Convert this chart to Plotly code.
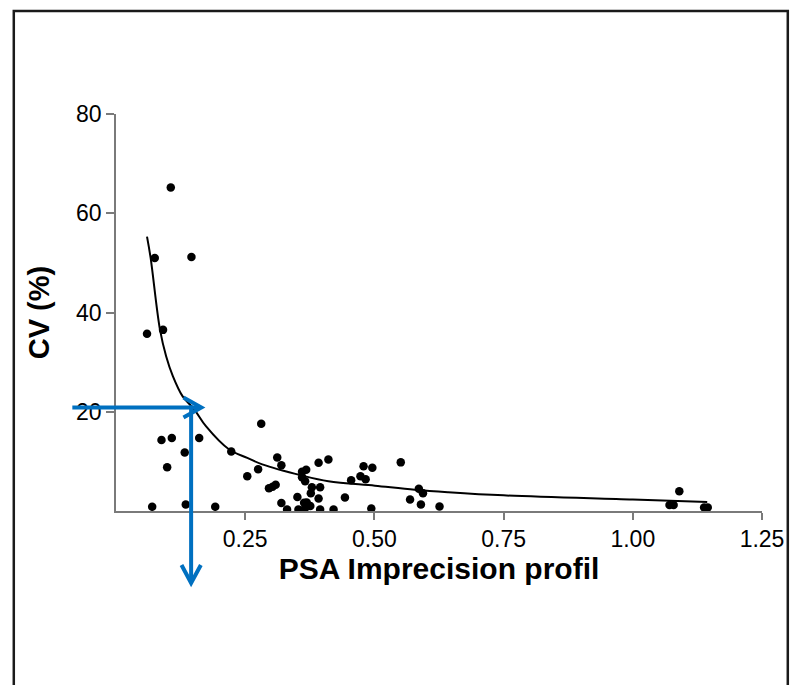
import plotly.graph_objects as go

# ---- data ----
psa_x = [0.060, 0.075, 0.106, 0.146, 0.091, 0.088, 0.108, 0.161, 0.133, 0.099,
         0.070, 0.135, 0.192, 0.223, 0.281, 0.254, 0.275, 0.296, 0.303, 0.309,
         0.312, 0.320, 0.320, 0.331, 0.351, 0.353, 0.360, 0.368, 0.360, 0.366,
         0.379, 0.395, 0.377, 0.392, 0.369, 0.376, 0.366, 0.395, 0.421, 0.392,
         0.411, 0.443, 0.455, 0.473, 0.483, 0.479, 0.496, 0.494, 0.551, 0.569,
         0.586, 0.594, 0.590, 0.626, 1.090, 1.071, 1.079, 1.138, 1.145, 0.364]
cv_y = [35.7, 51.0, 65.2, 51.2, 36.5, 14.3, 14.7, 14.7, 11.8, 8.8,
        0.85, 1.3, 0.85, 12.0, 17.6, 7.0, 8.4, 4.6, 4.9, 5.3,
        10.8, 9.2, 1.6, 0.3, 2.8, 0.3, 7.9, 8.3, 6.8, 6.0,
        4.8, 4.8, 3.6, 2.5, 1.7, 1.0, 0.6, 0.3, 0.3, 9.7,
        10.4, 2.7, 6.2, 7.0, 6.4, 9.0, 8.7, 0.5, 9.8, 2.3,
        4.5, 3.6, 1.3, 0.9, 4.0, 1.2, 1.2, 0.7, 0.7, 1.65]

fit_x = [0.060, 0.067, 0.085, 0.097, 0.110, 0.129, 0.152, 0.174, 0.219, 0.254,
         0.283, 0.360, 0.411, 0.501, 0.578, 0.642, 0.750, 1.000, 1.144]
fit_y = [55.3, 51.0, 36.6, 31.2, 27.2, 23.1, 20.4, 17.1, 12.4, 10.7,
         9.4, 7.15, 6.0, 5.1, 4.3, 3.8, 3.15, 2.3, 1.8]

x_ticks = [0.25, 0.50, 0.75, 1.00, 1.25]
x_tick_labels = ["0.25", "0.50", "0.75", "1.00", "1.25"]
y_ticks = [20, 40, 60, 80]
y_tick_labels = ["20", "40", "60", "80"]

# ---- layout geometry (pixels) ----
W, H = 796, 685
ML, MR, MT, MB = 116, 29, 114, 174
PW, PH = W - ML - MR, H - MT - MB


def px(xp):
    return (xp - ML) / PW


def py(yp):
    return (H - MB - yp) / PH


FONT = "Liberation Sans, Arial, sans-serif"
BLUE = "#0070C0"
AX = "#7a7a7a"

fig = go.Figure()
fig.add_trace(go.Scatter(x=fit_x, y=fit_y, mode="lines",
                         line=dict(color="black", width=2, shape="spline", smoothing=1.0),
                         hoverinfo="skip", showlegend=False))
fig.add_trace(go.Scatter(x=psa_x, y=cv_y, mode="markers",
                         marker=dict(color="black", size=8.5), showlegend=False))

shapes = []
# page frame
shapes.append(dict(type="rect", xref="paper", yref="paper",
                   x0=px(13), x1=px(793), y0=py(700), y1=py(11),
                   line=dict(color="#1a1a1a", width=2.5), fillcolor="rgba(0,0,0,0)", layer="below"))
# blue arrows
hy = 407.5
vx = 191.7
shapes.append(dict(type="line", xref="paper", yref="paper",
                   x0=px(72), x1=px(200), y0=py(hy), y1=py(hy),
                   line=dict(color=BLUE, width=4)))
shapes.append(dict(type="line", xref="paper", yref="paper",
                   x0=px(vx), x1=px(vx), y0=py(hy - 2), y1=py(581),
                   line=dict(color=BLUE, width=4)))


def chevron(points):
    d = "M " + " L ".join(f"{px(a):.5f},{py(b):.5f}" for a, b in points)
    return dict(type="path", xref="paper", yref="paper", path=d,
                line=dict(color=BLUE, width=4))


shapes.append(chevron([(184, 397.5), (202, 407.5), (184, 417.5)]))
shapes.append(chevron([(182, 565), (vx, 583), (201.5, 565)]))

fig.update_layout(
    width=W, height=H,
    margin=dict(l=ML, r=MR, t=MT, b=MB),
    paper_bgcolor="white", plot_bgcolor="white",
    font=dict(family=FONT, color="black"),
    shapes=shapes,
    xaxis=dict(range=[0, 1.25], tickvals=x_ticks, ticktext=x_tick_labels,
               showgrid=False, zeroline=False, showline=True, linecolor=AX, linewidth=1.5,
               ticks="outside", ticklen=7, tickcolor=AX, tickwidth=1.5,
               tickfont=dict(size=23, family=FONT),
               title=dict(text="<b>PSA Imprecision profil</b>", font=dict(size=30, family=FONT),
                          standoff=6)),
    yaxis=dict(range=[0, 80], tickvals=y_ticks, ticktext=y_tick_labels,
               showgrid=False, zeroline=False, showline=True, linecolor=AX, linewidth=1.5,
               ticks="outside", ticklen=8, tickcolor=AX, tickwidth=1.5,
               tickfont=dict(size=23, family=FONT),
               title=dict(text="<b>CV (%)</b>", font=dict(size=29, family=FONT),
                          standoff=18)),
)

fig.write_html("out.html")
